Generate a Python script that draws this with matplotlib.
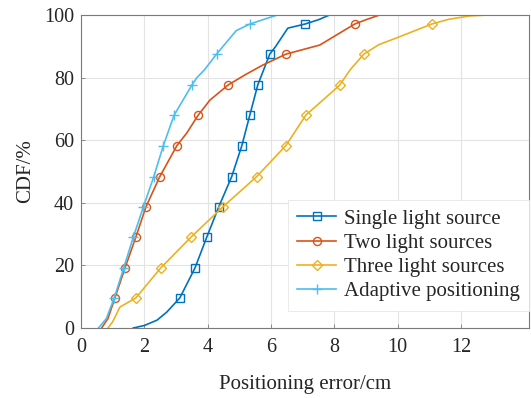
import numpy as np
import matplotlib
matplotlib.use("Agg")
import matplotlib.pyplot as plt

plt.rcParams['font.family'] = ['Liberation Serif', 'DejaVu Serif']
plt.rcParams['mathtext.fontset'] = 'stix'

labels = ["Single light source", "Two light sources", "Three light sources", "Adaptive positioning"]
colors = ["#0072BD", "#D95319", "#EDB120", "#4DBEEE"]
markers = ["s", "o", "D", "+"]

marker_levels = [9.6, 19.2, 29.0, 38.7, 48.4, 58.3, 68.0, 77.6, 87.5, 97.1]

single_x = [1.65, 2.0, 2.4, 2.7, 3.12, 3.6, 3.97, 4.35, 4.76, 5.08, 5.33, 5.58, 5.96, 6.15, 6.53, 7.07, 7.5, 7.85, 8.96]
single_y = [0, 0.8, 2.5, 5.0, 9.6, 19.2, 29.0, 38.7, 48.4, 58.3, 68.0, 77.6, 87.5, 90.0, 95.8, 97.1, 98.5, 100, 100]

two_x = [0.65, 0.85, 1.07, 1.39, 1.73, 2.05, 2.49, 3.03, 3.34, 3.7, 4.07, 4.64, 5.2, 5.74, 6.47, 7.54, 8.64, 9.0, 9.43, 11.48]
two_y = [0, 3.0, 9.6, 19.2, 29.0, 38.7, 48.4, 58.3, 62.3, 68.0, 72.8, 77.6, 81.0, 84.0, 87.5, 90.4, 97.1, 98.5, 100, 100]

three_x = [0.85, 1.0, 1.23, 1.73, 2.52, 3.47, 4.48, 5.55, 6.47, 7.1, 8.17, 8.5, 8.93, 9.4, 9.97, 11.07, 11.6, 12.27, 12.84]
three_y = [0, 2.0, 6.7, 9.6, 19.2, 29.0, 38.7, 48.4, 58.3, 68.0, 77.6, 82.5, 87.5, 90.5, 92.7, 97.1, 98.6, 99.7, 100]

adapt_x = [0.55, 0.8, 1.05, 1.35, 1.65, 1.97, 2.3, 2.6, 2.94, 3.5, 3.66, 3.9, 4.28, 4.9, 5.33, 5.8, 6.2, 6.75]
adapt_y = [0, 3.0, 9.6, 19.2, 29.0, 38.7, 48.4, 58.3, 68.0, 77.6, 80.0, 82.5, 87.5, 95.0, 97.1, 98.7, 100, 100]

series_x = [single_x, two_x, three_x, adapt_x]
series_y = [single_y, two_y, three_y, adapt_y]

xticks = [0, 2, 4, 6, 8, 10, 12]
yticks = [0, 20, 40, 60, 80, 100]

fig = plt.figure(figsize=(5.31, 3.98), dpi=100)
ax = fig.add_axes([81/531, 70/398, (529-81)/531, (328-15)/398])

for xs, ys, c, m, lab in zip(series_x, series_y, colors, markers, labels):
    ys_arr = np.array(ys)
    idx = [int(np.argmin(np.abs(ys_arr - lv))) for lv in marker_levels]
    ms = 7.0 if m == "+" else (5.5 if m == "D" else 5.8)
    ax.plot(xs, ys, color=c, lw=1.2, marker=m, markevery=idx, ms=ms,
            mfc='none', mec=c, mew=1.0, label=lab)

ax.set_xlim(0, (529-81)/31.67)
ax.set_ylim(0, 100)
ax.set_xticks(xticks)
ax.set_yticks(yticks)
ax.grid(True, color='#e3e3e3', lw=0.8)
ax.set_axisbelow(True)
for s in ax.spines.values():
    s.set_color('#7a7a7a')
    s.set_linewidth(0.8)
ax.tick_params(direction='in', length=3, width=0.6, color='#7a7a7a',
               labelsize=14.5, labelcolor='#262626')
ax.tick_params(axis='x', pad=7)
ax.tick_params(axis='y', pad=5)
ax.set_xlabel("Positioning error/cm", fontsize=15, color='#262626', labelpad=13)
ax.set_ylabel("CDF/%", fontsize=15, color='#262626', labelpad=6)

leg = ax.legend(loc='upper right', bbox_to_anchor=(1.0, 0.41), fontsize=15,
                frameon=True, fancybox=False, framealpha=1, edgecolor='#e6e6e6',
                handlelength=1.9, handletextpad=0.35, labelspacing=0.22,
                borderpad=0.45, borderaxespad=0.0)
leg.get_frame().set_linewidth(0.6)
for t in leg.get_texts():
    t.set_color('#262626')

fig.savefig("out.png", dpi=100)
